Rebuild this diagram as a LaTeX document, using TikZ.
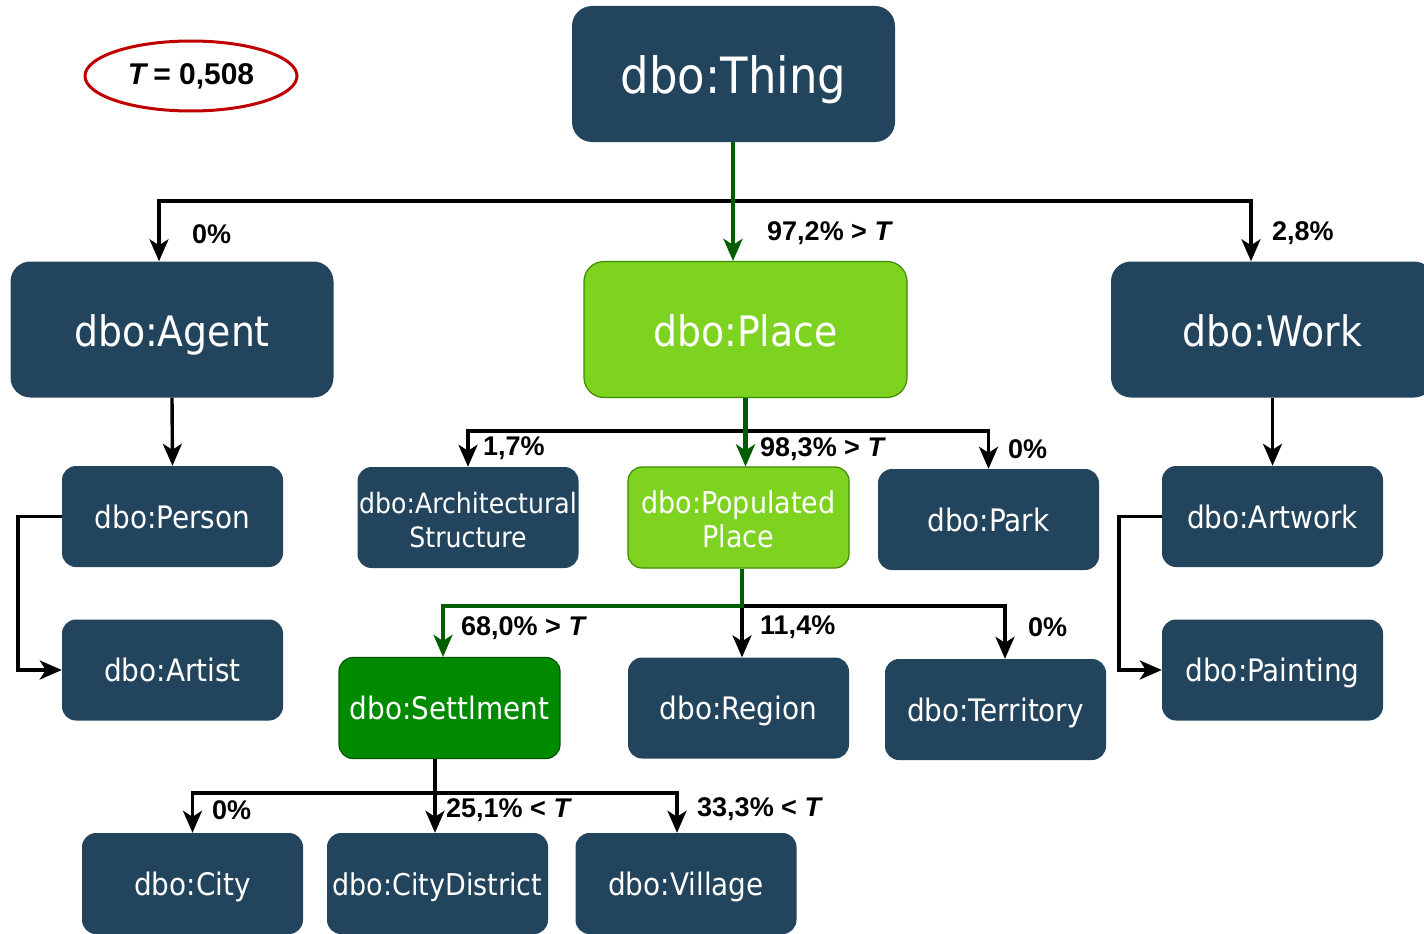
\documentclass[tikz,border=0pt]{standalone}
\usepackage{fontspec}
\setmainfont{Liberation Sans}
\newfontfamily\boxfont{DejaVu Sans Condensed}
\usetikzlibrary{arrows.meta,shapes.geometric}

\definecolor{navy}{HTML}{23445D}
\definecolor{lgreen}{HTML}{7ED321}
\definecolor{lgreenline}{HTML}{3E8A00}
\definecolor{dgreen}{HTML}{008A00}
\definecolor{dgreenline}{HTML}{005700}
\definecolor{pathgreen}{HTML}{005E00}
\definecolor{ovalred}{HTML}{C00000}

% two centred lines, lowered a little without changing the box size
\newcommand{\twolines}[2]{\raisebox{-6pt}[\height][\depth]{\begin{tabular}{@{}c@{}}#1\\[-1pt]#2\end{tabular}}}

\tikzset{
  box/.style={rectangle, fill=navy, text=white, align=center, inner sep=0pt},
  bigbox/.style={box, minimum width=323pt, minimum height=136pt, rounded corners=20pt,
    font=\boxfont\fontsize{42}{48}\selectfont, text height=44pt, text depth=10pt},
  smallbox/.style={box, minimum width=221pt, minimum height=101pt, rounded corners=14pt,
    font=\boxfont\fontsize{31}{35}\selectfont},
  oneline/.style={smallbox, text height=31pt, text depth=7.5pt},
  lightsel/.style={fill=lgreen, draw=lgreenline, line width=1.2pt},
  darksel/.style={fill=dgreen, draw=dgreenline, line width=1.2pt},
  blk/.style={draw=black, line width=3.4pt},
  grn/.style={draw=pathgreen, line width=4.4pt},
  arr/.style={-{Stealth[length=22pt,width=19pt,inset=6pt]}},
  lbl/.style={font=\bfseries\fontsize{27}{30}\selectfont, inner sep=0pt, anchor=west},
}

\begin{document}
\begin{tikzpicture}[x=1pt, y=-1pt]
  \useasboundingbox[fill=white] (0,0) rectangle (1424,934);

  % threshold
  \node[draw=ovalred, line width=3pt, ellipse, minimum width=212pt, minimum height=70pt,
        inner sep=0pt, font=\bfseries\fontsize{30}{34}\selectfont] (tval) at (191,76)
        {\textit{T}\,= 0,508};

  % class boxes
  \node[bigbox, font=\boxfont\fontsize{50}{56}\selectfont, text height=50pt, text depth=12pt] (thing) at (733.5,74) {dbo:Thing};
  \node[bigbox] (agent) at (172,329.5) {dbo:Agent};
  \node[bigbox, lightsel] (place) at (745.5,329.5) {dbo:Place};
  \node[bigbox] (work) at (1272.5,329.5) {dbo:Work};

  \node[oneline] (person) at (172.5,516.5) {dbo:Person};
  \node[oneline] (artist) at (172.5,670) {dbo:Artist};
  \node[smallbox, font=\boxfont\fontsize{28}{35}\selectfont] (arch) at (468,517.5)
    {\twolines{dbo:Architectural}{Structure}};
  \node[smallbox, lightsel, font=\boxfont\fontsize{30}{35}\selectfont] (pp) at (738.5,517.5)
    {\twolines{dbo:Populated}{Place}};
  \node[oneline] (park) at (988.5,519.5) {dbo:Park};
  \node[oneline] (artwork) at (1272.5,516.5) {dbo:Artwork};
  \node[oneline] (painting) at (1272.5,670) {dbo:Painting};

  \node[oneline, darksel] (settle) at (449.5,708) {dbo:Settlment};
  \node[oneline] (region) at (738.5,708) {dbo:Region};
  \node[oneline] (territory) at (995.5,709.5) {dbo:Territory};

  \node[oneline] (city) at (192.5,883.5) {dbo:City};
  \node[oneline, font=\boxfont\fontsize{30}{35}\selectfont] (cd) at (437.5,883.5) {dbo:CityDistrict};
  \node[oneline] (village) at (686,883.5) {dbo:Village};

  % level 1
  \coordinate (jt) at (733,201);
  \draw[blk,arr] (jt) -| ([xshift=-13pt]agent.north);
  \draw[blk,arr] (jt) -| ([xshift=-21.5pt]work.north);
  \draw[grn,arr] ([xshift=-0.5pt]thing.south) -- ([xshift=-0.5pt]thing.south |- place.north);

  % level 2
  \draw[blk,arr] (agent.south) -- (person.north);
  \draw[blk,arr] (work.south) -- (artwork.north);
  \coordinate (jp) at (745,431);
  \draw[blk,arr] (jp) -| (arch.north);
  \draw[blk,arr] (jp) -| (park.north);
  \draw[grn,arr] (place.south) -- (place.south |- pp.north);

  \draw[blk,arr] (person.west) -- ++(-44,0) |- (artist.west);
  \draw[blk,arr] (artwork.west) -- ++(-43,0) |- (painting.west);

  % level 3
  \coordinate (jq) at (742,606);
  \draw[blk,arr] (jq) -| ([xshift=9.5pt]territory.north);
  \draw[blk,arr] (jq) -- (jq |- region.north);
  \draw[grn,arr] (jq |- pp.south) -- (jq) -| ([xshift=-6.5pt]settle.north);

  % level 4
  \coordinate (js) at (435,793);
  \draw[blk] ([xshift=-14.5pt]settle.south) -- (js);
  \draw[blk,arr] (js) -| (city.north);
  \draw[blk,arr] (js) -- (js |- cd.north);
  \draw[blk,arr] (js) -| ([xshift=-9pt]village.north);

  % edge labels
  \node[lbl] (l1) at (192,234) {0\%};
  \node[lbl] (l2) at (767,233) {97,2\% > \textit{T}};
  \node[lbl] (l3) at (1272,233) {2,8\%};
  \node[lbl] (l4) at (483,448) {1,7\%};
  \node[lbl] (l5) at (760,449) {98,3\% > \textit{T}};
  \node[lbl] (l6) at (1008,449) {0\%};
  \node[lbl] (l7) at (461,628) {68,0\% > \textit{T}};
  \node[lbl] (l8) at (760,627) {11,4\%};
  \node[lbl] (l9) at (1028,627) {0\%};
  \node[lbl] (l10) at (212,810) {0\%};
  \node[lbl] (l11) at (446,810) {25,1\% < \textit{T}};
  \node[lbl] (l12) at (697,809) {33,3\% < \textit{T}};
\end{tikzpicture}
\end{document}
